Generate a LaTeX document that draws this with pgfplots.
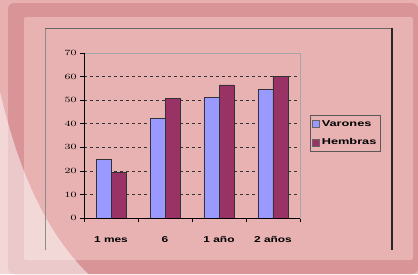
\documentclass[border=0pt]{standalone}
\usepackage{pgfplots}
\pgfplotsset{compat=1.18}
\usepackage{fontspec}
\setmainfont{Liberation Sans}
\definecolor{outerl}{RGB}{232,176,176}
\definecolor{outerd}{RGB}{216,148,150}
\definecolor{panel}{RGB}{232,178,178}
\definecolor{varc}{RGB}{153,153,255}
\definecolor{hemc}{RGB}{153,51,102}
\newcommand\W[1]{\scalebox{1.4}[1]{#1}}
\newcommand\WL[1]{\scalebox{1.5}[1]{#1}}
\begin{document}
\begin{tikzpicture}
\useasboundingbox (0pt,0pt) rectangle (418pt,274pt);
\fill[outerl] (0pt,0pt) rectangle (418pt,274pt);
\fill[outerd, rounded corners=6pt] (8pt,0pt) rectangle (418pt,271pt);
\fill[panel, rounded corners=2pt] (24pt,14pt) rectangle (413pt,257pt);
\fill[white, opacity=0.5] (0pt,182pt) .. controls (14pt,124pt) and (36pt,52pt) .. (88pt,0pt) -- (0pt,0pt) -- cycle;
\draw[black!45, line width=0.6pt] (45pt,24pt) -- (45pt,246pt);
\draw[black!60, line width=0.8pt] (45pt,246pt) -- (392pt,246pt);
\draw[black!85, line width=1.4pt] (392pt,246pt) -- (392pt,24pt);
\begin{axis}[
  at={(84pt,56pt)}, anchor=south west,
  scale only axis, width=216pt, height=165pt,
  xmin=-0.5, xmax=3.5, ymin=0, ymax=70,
  ybar=0pt, bar width=15pt,
  xtick={-0.5,0.5,1.5,2.5,3.5},
  xticklabels={},
  extra x ticks={0,1,2,3},
  extra x tick labels={\W{1 mes},\W{6},\W{1 año},\W{2 años}},
  extra x tick style={tick style={draw=none}},
  ytick={0,10,...,70},
  yticklabel={\W{\pgfmathprintnumber{\tick}}},
  extra y ticks={10,20,30,40,50,60},
  extra y tick labels={},
  extra y tick style={grid=major, tick style={draw=none}},
  major grid style={black!80, dashed, line width=0.6pt},
  tick align=outside, tick pos=left,
  major tick length=4pt,
  tick style={black, line width=0.6pt},
  axis line style={draw=black!35, line width=0.6pt},
  tick label style={font=\bfseries\fontsize{8.5}{9}\selectfont},
  xticklabel style={yshift=-11pt},
  legend style={at={(rel axis cs:1.046,0.624)}, anchor=north west,
    draw=black!65, line width=0.8pt, fill=panel,
    font=\bfseries\fontsize{8.5}{10}\selectfont,
    inner xsep=2pt, inner ysep=3pt, row sep=7pt, cells={anchor=west}},
  legend image code/.code={\draw[#1, draw=black!60, line width=0.5pt] (0pt,-3.5pt) rectangle (7pt,3.5pt);},
]
\addplot[fill=varc, draw=black!80, line width=0.6pt] coordinates {(0,25) (1,42.3) (2,51.2) (3,54.6)};
\addplot[fill=hemc, draw=black!80, line width=0.6pt] coordinates {(0,19.3) (1,50.6) (2,56.5) (3,60)};
\legend{\WL{Varones},\WL{Hembras}}
\draw[black, line width=1pt] (rel axis cs:0,1) -- (rel axis cs:0,0) -- (rel axis cs:1,0);
\end{axis}
\end{tikzpicture}
\end{document}
